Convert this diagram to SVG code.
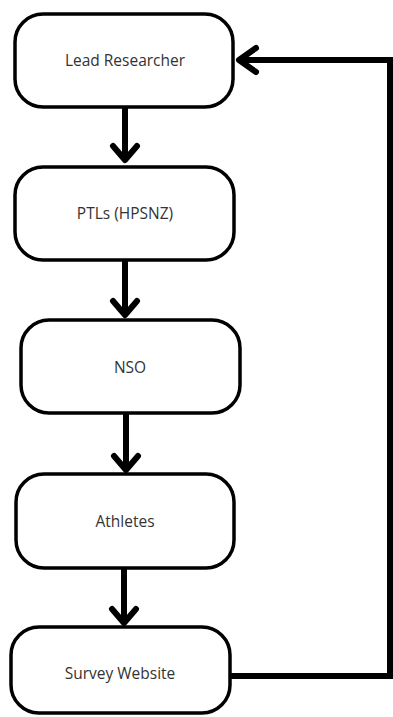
<svg xmlns="http://www.w3.org/2000/svg" width="393" height="717" viewBox="0 0 393 717">
<style>
.box{fill:#fff;stroke:#000;stroke-width:3.5}
.lbl{font-family:"Open Sans","Noto Sans",sans-serif;font-size:15.5px;fill:#333;text-anchor:middle;dominant-baseline:central}
.conn{fill:none;stroke:#000;stroke-width:6}
.head{fill:none;stroke:#000;stroke-width:6;stroke-linecap:round;stroke-linejoin:round}
</style>
<rect width="393" height="717" fill="#fff"/>
<g id="connectors">
<path class="conn" d="M125,107 V160"/>
<path class="head" d="M113,146 L125,160 L137,146"/>
<path class="conn" d="M125,260 V315"/>
<path class="head" d="M113,301 L125,315 L137,301"/>
<path class="conn" d="M126,413 V470"/>
<path class="head" d="M114,456 L126,470 L138,456"/>
<path class="conn" d="M124,568 V623"/>
<path class="head" d="M112,609 L124,623 L136,609"/>
<path class="conn" d="M230,676 H390 V60 H240"/>
<path class="head" d="M256,48 L239,60 L256,72"/>
</g>
<g id="lead-researcher">
<rect class="box" x="15" y="14" width="218" height="93" rx="28"/>
<text class="lbl" x="125" y="60">Lead Researcher</text>
</g>
<g id="ptls">
<rect class="box" x="15" y="167" width="219" height="93" rx="28"/>
<text class="lbl" x="125" y="213">PTLs (HPSNZ)</text>
</g>
<g id="nso">
<rect class="box" x="21" y="320" width="219" height="93" rx="28"/>
<text class="lbl" x="130" y="367">NSO</text>
</g>
<g id="athletes">
<rect class="box" x="16" y="474" width="218" height="94" rx="28"/>
<text class="lbl" x="125" y="521">Athletes</text>
</g>
<g id="survey-website">
<rect class="box" x="11" y="627" width="219" height="86" rx="28"/>
<text class="lbl" x="120" y="673">Survey Website</text>
</g>
</svg>
